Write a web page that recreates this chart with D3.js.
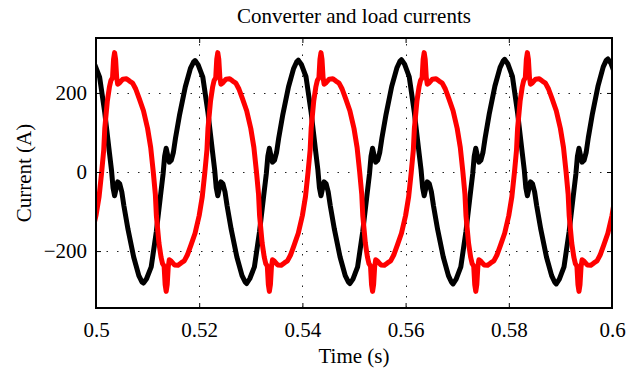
<!DOCTYPE html>
<html>
<head>
<meta charset="utf-8">
<script src="https://cdn.jsdelivr.net/npm/d3@7"></script>
<style>
  body { margin: 0; background: #fff; }
  text { font-family: "Liberation Serif", "Times New Roman", serif; }
</style>
</head>
<body>
<svg id="frame" width="627" height="371"></svg>
<script>
// axis setup
const xTicks = [0.5, 0.52, 0.54, 0.56, 0.58, 0.6];
const yTicks = [-200, 0, 200];
const xDomain = [0.5, 0.6];
const yDomain = [-344, 339];

// black trace: converter current, [time (s), current (A)]
const converterCurrent = [
  [0.4992,281],[0.4998,270],[0.5007,240],[0.5017,150],[0.5025,60],[0.5030,5],[0.5033,-40],[0.5036,-60],[0.5039,-42],[0.5042,-25],[0.5046,-30],[0.5050,-50],[0.5054,-85],[0.5062,-145],[0.5073,-215],[0.5083,-262],[0.5089,-278],
  [0.5092,-281],[0.5098,-270],[0.5107,-240],[0.5117,-150],[0.5125,-60],[0.5130,-5],[0.5133,40],[0.5136,60],[0.5139,42],[0.5142,25],[0.5146,30],[0.5150,50],[0.5154,85],[0.5162,145],[0.5173,215],[0.5183,262],[0.5189,278],
  [0.5192,282],[0.5198,271],[0.5207,240],[0.5217,150],[0.5225,60],[0.5230,5],[0.5233,-40],[0.5236,-60],[0.5239,-42],[0.5242,-25],[0.5246,-30],[0.5250,-50],[0.5254,-85],[0.5262,-145],[0.5273,-215],[0.5283,-262],[0.5289,-278],
  [0.5292,-282],[0.5298,-270],[0.5307,-240],[0.5317,-150],[0.5325,-60],[0.5330,-5],[0.5333,40],[0.5336,60],[0.5339,42],[0.5342,25],[0.5346,30],[0.5350,50],[0.5354,85],[0.5362,145],[0.5373,215],[0.5383,262],[0.5389,279],
  [0.5392,283],[0.5398,272],[0.5407,241],[0.5417,150],[0.5425,60],[0.5430,5],[0.5433,-40],[0.5436,-60],[0.5439,-42],[0.5442,-25],[0.5446,-30],[0.5450,-50],[0.5454,-85],[0.5462,-145],[0.5473,-215],[0.5483,-262],[0.5489,-278],
  [0.5492,-282],[0.5498,-271],[0.5507,-240],[0.5517,-150],[0.5525,-60],[0.5530,-5],[0.5533,40],[0.5536,60],[0.5539,42],[0.5542,25],[0.5546,30],[0.5550,50],[0.5554,85],[0.5562,145],[0.5573,216],[0.5583,263],[0.5589,280],
  [0.5592,284],[0.5598,273],[0.5607,241],[0.5617,150],[0.5625,60],[0.5630,5],[0.5633,-40],[0.5636,-60],[0.5639,-42],[0.5642,-25],[0.5646,-30],[0.5650,-50],[0.5654,-85],[0.5662,-145],[0.5673,-215],[0.5683,-262],[0.5689,-279],
  [0.5692,-283],[0.5698,-271],[0.5707,-240],[0.5717,-150],[0.5725,-60],[0.5730,-5],[0.5733,40],[0.5736,60],[0.5739,42],[0.5742,25],[0.5746,30],[0.5750,50],[0.5754,85],[0.5762,146],[0.5773,217],[0.5783,264],[0.5789,281],
  [0.5792,285],[0.5798,274],[0.5807,242],[0.5817,150],[0.5825,60],[0.5830,5],[0.5833,-40],[0.5836,-60],[0.5839,-42],[0.5842,-25],[0.5846,-30],[0.5850,-50],[0.5854,-85],[0.5862,-145],[0.5873,-215],[0.5883,-262],[0.5889,-279],
  [0.5892,-283],[0.5898,-271],[0.5907,-240],[0.5917,-150],[0.5925,-60],[0.5930,-5],[0.5933,40],[0.5936,60],[0.5939,42],[0.5942,25],[0.5946,30],[0.5950,50],[0.5954,86],[0.5962,147],[0.5973,218],[0.5983,266],[0.5989,283],
  [0.5992,286],[0.5998,275],[0.6007,243]
];

// red trace: load current, [time (s), current (A)]
const loadCurrent = [
  [0.4984,-185],[0.4992,-155],[0.5000,-110],[0.5006,-62],[0.5011,0],[0.5015,56],[0.5017,110],[0.5022,180],[0.5026,215],[0.5029,232],[0.5032,238],[0.5034,285],
  [0.5036,302],[0.5038,285],[0.5040,240],[0.5042,222],[0.5046,226],[0.5052,235],[0.5059,236],[0.5065,230],[0.5071,225],[0.5077,210],[0.5084,185],[0.5092,155],[0.5100,110],[0.5106,62],[0.5111,0],[0.5115,-56],[0.5117,-110],[0.5122,-180],[0.5126,-215],[0.5129,-232],[0.5132,-238],[0.5134,-285],
  [0.5136,-302],[0.5138,-285],[0.5140,-240],[0.5142,-222],[0.5146,-226],[0.5152,-235],[0.5159,-236],[0.5165,-230],[0.5171,-225],[0.5177,-210],[0.5184,-185],[0.5192,-155],[0.5200,-110],[0.5206,-62],[0.5211,0],[0.5215,56],[0.5217,110],[0.5222,180],[0.5226,215],[0.5229,232],[0.5232,238],[0.5234,285],
  [0.5236,302],[0.5238,285],[0.5240,240],[0.5242,222],[0.5246,226],[0.5252,235],[0.5259,236],[0.5265,230],[0.5271,225],[0.5277,210],[0.5284,185],[0.5292,155],[0.5300,110],[0.5306,62],[0.5311,0],[0.5315,-56],[0.5317,-110],[0.5322,-180],[0.5326,-215],[0.5329,-232],[0.5332,-238],[0.5334,-285],
  [0.5336,-302],[0.5338,-285],[0.5340,-240],[0.5342,-222],[0.5346,-226],[0.5352,-235],[0.5359,-236],[0.5365,-230],[0.5371,-225],[0.5377,-210],[0.5384,-185],[0.5392,-155],[0.5400,-110],[0.5406,-62],[0.5411,0],[0.5415,56],[0.5417,110],[0.5422,180],[0.5426,215],[0.5429,232],[0.5432,238],[0.5434,285],
  [0.5436,302],[0.5438,285],[0.5440,240],[0.5442,222],[0.5446,226],[0.5452,235],[0.5459,236],[0.5465,230],[0.5471,225],[0.5477,210],[0.5484,185],[0.5492,155],[0.5500,110],[0.5506,62],[0.5511,0],[0.5515,-56],[0.5517,-110],[0.5522,-180],[0.5526,-215],[0.5529,-232],[0.5532,-238],[0.5534,-285],
  [0.5536,-302],[0.5538,-285],[0.5540,-240],[0.5542,-222],[0.5546,-226],[0.5552,-235],[0.5559,-236],[0.5565,-230],[0.5571,-225],[0.5577,-210],[0.5584,-185],[0.5592,-155],[0.5600,-110],[0.5606,-62],[0.5611,0],[0.5615,56],[0.5617,110],[0.5622,180],[0.5626,215],[0.5629,232],[0.5632,238],[0.5634,285],
  [0.5636,302],[0.5638,285],[0.5640,240],[0.5642,222],[0.5646,226],[0.5652,235],[0.5659,236],[0.5665,230],[0.5671,225],[0.5677,210],[0.5684,185],[0.5692,155],[0.5700,110],[0.5706,62],[0.5711,0],[0.5715,-56],[0.5717,-110],[0.5722,-180],[0.5726,-215],[0.5729,-232],[0.5732,-238],[0.5734,-285],
  [0.5736,-302],[0.5738,-285],[0.5740,-240],[0.5742,-222],[0.5746,-226],[0.5752,-235],[0.5759,-236],[0.5765,-230],[0.5771,-225],[0.5777,-210],[0.5784,-185],[0.5792,-155],[0.5800,-110],[0.5806,-62],[0.5811,0],[0.5815,56],[0.5817,110],[0.5822,180],[0.5826,215],[0.5829,232],[0.5832,238],[0.5834,285],
  [0.5836,302],[0.5838,285],[0.5840,240],[0.5842,222],[0.5846,226],[0.5852,235],[0.5859,236],[0.5865,230],[0.5871,225],[0.5877,210],[0.5884,185],[0.5892,155],[0.5900,110],[0.5906,62],[0.5911,0],[0.5915,-56],[0.5917,-110],[0.5922,-180],[0.5926,-215],[0.5929,-232],[0.5932,-238],[0.5934,-285],
  [0.5936,-302],[0.5938,-285],[0.5940,-240],[0.5942,-222],[0.5946,-226],[0.5952,-235],[0.5959,-236],[0.5965,-230],[0.5971,-225],[0.5977,-210],[0.5984,-185],[0.5992,-155],[0.6000,-110],[0.6006,-62]
];

const config = { width: 627, height: 371, left: 96, right: 612, top: 38, bottom: 308, fontSize: 21 };

const svg = d3.select("#frame");

const x = d3.scaleLinear().domain(xDomain).range([config.left, config.right]);
const y = d3.scaleLinear().domain(yDomain).range([config.bottom, config.top]);

// clip the traces to the axes box
svg.append("clipPath").attr("id", "plotArea")
  .append("rect")
  .attr("x", config.left).attr("y", config.top)
  .attr("width", config.right - config.left)
  .attr("height", config.bottom - config.top);

// dotted grid
let grid = svg.append("g").attr("class", "grid")
  .attr("stroke", "#222").attr("stroke-width", 1).attr("stroke-dasharray", "1.5,9");

grid.selectAll("line.gx")
  .data(xTicks.slice(1, -1))
  .join("line").classed("gx", true)
  .attr("x1", d => Math.round(x(d)) + 0.5).attr("x2", d => Math.round(x(d)) + 0.5)
  .attr("y1", config.bottom).attr("y2", config.top);

grid.selectAll("line.gy")
  .data(yTicks)
  .join("line").classed("gy", true)
  .attr("y1", d => Math.round(y(d)) + 0.5).attr("y2", d => Math.round(y(d)) + 0.5)
  .attr("x1", config.left).attr("x2", config.right);

// traces
const line = d3.line().x(d => x(d[0])).y(d => y(d[1]));

let traces = svg.append("g").attr("clip-path", "url(#plotArea)")
  .attr("fill", "none").attr("stroke-width", 5)
  .attr("stroke-linejoin", "round").attr("stroke-linecap", "round");

traces.append("path").datum(converterCurrent).attr("stroke", "#000").attr("d", line);
traces.append("path").datum(loadCurrent).attr("stroke", "#ff0000").attr("d", line);

// axes with inward ticks
const fmtX = d => String(d);

let xAxis = d3.axisBottom(x).tickValues(xTicks).tickFormat(fmtX).tickSize(-5).tickPadding(14);
let yAxis = d3.axisLeft(y).tickValues(yTicks).tickSize(-5).tickPadding(9);

function styleAxis(g) {
  g.select(".domain").remove();
  g.selectAll(".tick line").attr("stroke", "#000").attr("stroke-width", 1);
  g.selectAll(".tick text").attr("font-size", config.fontSize).attr("fill", "#000")
    .attr("font-family", "Liberation Serif, Times New Roman, serif");
}

svg.append("g").attr("transform", `translate(0,${config.bottom})`).call(xAxis).call(styleAxis);
svg.append("g").attr("transform", `translate(${config.left},0)`).call(yAxis).call(styleAxis);
svg.append("g").attr("transform", `translate(0,${config.top})`)
  .call(d3.axisTop(x).tickValues(xTicks).tickFormat("").tickSize(-5)).call(styleAxis);
svg.append("g").attr("transform", `translate(${config.right},0)`)
  .call(d3.axisRight(y).tickValues(yTicks).tickFormat("").tickSize(-5)).call(styleAxis);

// axes box
svg.append("rect")
  .attr("x", config.left).attr("y", config.top)
  .attr("width", config.right - config.left)
  .attr("height", config.bottom - config.top)
  .attr("fill", "none").attr("stroke", "#000").attr("stroke-width", 2);

// title and labels
svg.append("text")
  .attr("x", (config.left + config.right) / 2).attr("y", 23)
  .attr("text-anchor", "middle").attr("font-size", config.fontSize)
  .text("Converter and load currents");

svg.append("text")
  .attr("x", (config.left + config.right) / 2).attr("y", 363)
  .attr("text-anchor", "middle").attr("font-size", config.fontSize)
  .text("Time (s)");

svg.append("text")
  .attr("transform", `translate(31,${(config.top + config.bottom) / 2}) rotate(-90)`)
  .attr("text-anchor", "middle").attr("font-size", config.fontSize)
  .text("Current (A)");
</script>
</body>
</html>
